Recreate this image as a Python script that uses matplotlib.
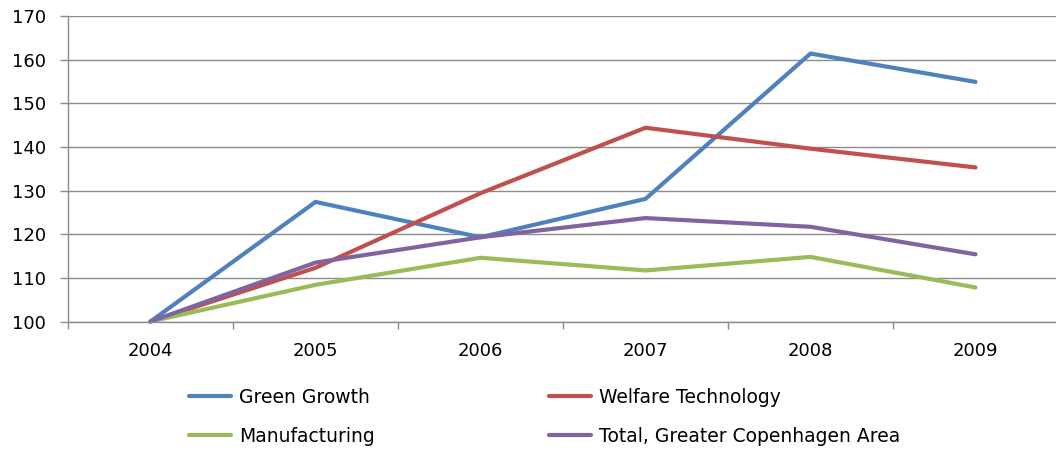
import matplotlib
matplotlib.use('Agg')
import matplotlib.pyplot as plt
import numpy as np

years = ["2004", "2005", "2006", "2007", "2008", "2009"]
green_growth = [100, 127.4, 119.3, 128.1, 161.4, 154.9]
welfare_tech = [100, 112.3, 129.4, 144.4, 139.6, 135.3]
manufacturing = [100, 108.4, 114.6, 111.7, 114.8, 107.8]
total_cph = [100, 113.5, 119.3, 123.7, 121.7, 115.4]

series = [
    ("Green Growth", green_growth, "#4F81BD"),
    ("Welfare Technology", welfare_tech, "#C0504D"),
    ("Manufacturing", manufacturing, "#9BBB59"),
    ("Total, Greater Copenhagen Area", total_cph, "#8064A2"),
]

plt.rcParams['font.family'] = ['DejaVu Sans']

W, H = 1056, 451
fig = plt.figure(figsize=(W / 100, H / 100), dpi=100)
ax = fig.add_axes([68 / W, 1 - 321.5 / H, 990 / W, (321.5 - 16) / H])

x = np.arange(len(years))
lines = {}
for name, vals, col in series:
    lines[name], = ax.plot(x, vals, color=col, lw=3, label=name,
                           solid_capstyle='round', solid_joinstyle='miter',
                           clip_on=False)

grid_col = "#8C8C8C"
ax.set_xlim(-0.5, len(years) - 0.5)
ax.set_ylim(100, 170)
ax.set_yticks(np.arange(100, 171, 10))
ax.yaxis.grid(True, color=grid_col, lw=1)
ax.set_axisbelow(True)

ax.set_xticks(x)
ax.set_xticklabels(years)
ax.set_xticks(np.arange(-0.5, len(years), 1), minor=True)
ax.tick_params(axis='x', which='major', length=0, pad=15, labelsize=13)
ax.tick_params(axis='x', which='minor', length=5, width=1, color=grid_col, direction='out')
ax.tick_params(axis='y', length=6, width=1, color=grid_col, pad=10, labelsize=13)

for s in ['top', 'right']:
    ax.spines[s].set_visible(False)
for s in ['left', 'bottom']:
    ax.spines[s].set_color(grid_col)
    ax.spines[s].set_linewidth(1)

# legend is filled row by row in the reference
order = ["Green Growth", "Manufacturing", "Welfare Technology",
         "Total, Greater Copenhagen Area"]
fig.legend([lines[n] for n in order], order, loc='upper left',
           bbox_to_anchor=(189 / W, 1 - 388 / H), ncol=2,
           frameon=False, fontsize=13.5, handlelength=2.25, handletextpad=0.43,
           columnspacing=9.27, labelspacing=1.05, borderpad=0, borderaxespad=0)

fig.savefig("out.png", dpi=100)
